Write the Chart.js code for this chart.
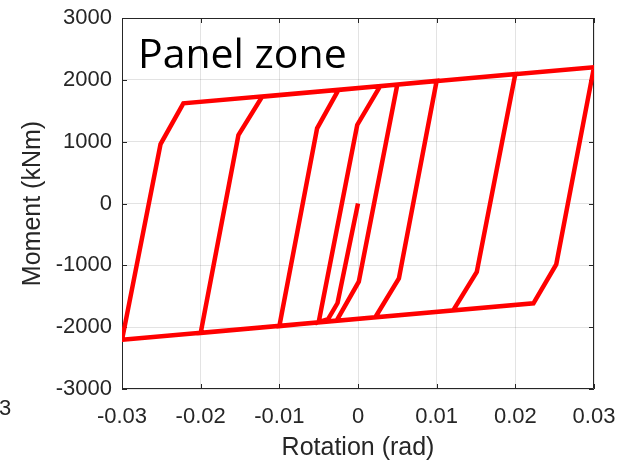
<!DOCTYPE html>
<html>
<head>
<meta charset="utf-8">
<script src="https://cdn.jsdelivr.net/npm/chart.js@4.4.1/dist/chart.umd.min.js"></script>
<style>
  html, body { margin: 0; padding: 0; background: #fff; }
  #wrap { width: 628px; height: 461px; position: relative; }
</style>
</head>
<body>
<div id="wrap"><canvas id="chart" width="628" height="461"></canvas></div>
<script>
'use strict';

// ── Data ──────────────────────────────────────────────────────────────────────
const rotation = [
    0, -0.0026, -0.0038, -0.0050,
    -0.0001, 0.0028, 0.0050,
    0.0001, -0.0027, -0.0100,
    -0.0052, -0.0025, 0.0100,
    0.0052, 0.0022, -0.0200,
    -0.0152, -0.0122, 0.0200,
    0.0151, 0.0121, -0.0300,
    -0.0251, -0.0222, 0.0300,
    0.0252, 0.0223, -0.0300
];
const moment = [
    0, -1610, -1870, -1920,
    1270, 1895, 1925,
    -1265, -1890, -1985,
    1215, 1835, 1985,
    -1210, -1840, -2095,
    1105, 1725, 2095,
    -1105, -1730, -2205,
    960, 1620, 2205,
    -985, -1615, -2205
];
const xTicks = [-0.03, -0.02, -0.01, 0, 0.01, 0.02, 0.03];
const yTicks = [-3000, -2000, -1000, 0, 1000, 2000, 3000];

const AXIS_COLOR = '#262626';
const GRID_COLOR = 'rgba(38,38,38,0.13)';
const TICK_FONT  = { family: '"Liberation Sans", Arial, sans-serif', size: 22 };
const LABEL_FONT = { family: '"Liberation Sans", Arial, sans-serif', size: 25, lineHeight: 1.05 };

// ── Box + inside ticks + annotation text (MATLAB look) ───────────────────────
const matlabBox = {
    id: 'matlabBox',
    beforeDatasetsDraw(chart) {
        const { ctx, chartArea: a, scales } = chart;
        ctx.save();
        ctx.strokeStyle = AXIS_COLOR;
        ctx.lineWidth = 1;
        ctx.beginPath();
        ctx.rect(a.left + 0.5, a.top + 0.5, a.right - a.left - 1, a.bottom - a.top - 1);
        ctx.stroke();
        const len = 5;
        ctx.beginPath();
        xTicks.forEach(v => {
            const px = Math.round(scales.x.getPixelForValue(v)) + 0.5;
            ctx.moveTo(px, a.bottom); ctx.lineTo(px, a.bottom - len);
            ctx.moveTo(px, a.top);    ctx.lineTo(px, a.top + len);
        });
        yTicks.forEach(v => {
            const py = Math.round(scales.y.getPixelForValue(v)) + 0.5;
            ctx.moveTo(a.left, py);  ctx.lineTo(a.left + len, py);
            ctx.moveTo(a.right, py); ctx.lineTo(a.right - len, py);
        });
        ctx.stroke();
        ctx.restore();
    },
    afterDraw(chart) {
        const { ctx } = chart;
        ctx.save();
        ctx.fillStyle = '#000';
        ctx.font = '41px "Open Sans", Lato, sans-serif';
        ctx.textBaseline = 'alphabetic';
        ctx.fillText('Panel zone', 138, 68);
        // cut-off exponent label at the far left
        ctx.fillStyle = AXIS_COLOR;
        ctx.font = '22px "Liberation Sans", Arial, sans-serif';
        ctx.fillText('3', -1, 415);
        ctx.restore();
    }
};

// ── Chart ────────────────────────────────────────────────────────────────────
new Chart(document.getElementById('chart'), {
    type: 'scatter',
    data: {
        datasets: [{
            data: rotation.map((r, i) => ({ x: r, y: moment[i] })),
            showLine: true,
            borderColor: '#ff0000',
            borderWidth: 4.5,
            borderJoinStyle: 'miter',
            pointRadius: 0,
            tension: 0,
            fill: false
        }]
    },
    options: {
        responsive: false,
        animation: false,
        layout: { padding: { left: 0, right: 34, top: 18, bottom: 0 } },
        plugins: { legend: { display: false }, tooltip: { enabled: false } },
        scales: {
            x: {
                type: 'linear',
                min: -0.03, max: 0.03,
                afterFit: s => { s.height = 72; s.paddingLeft = 0; s.paddingRight = 0; },
                afterBuildTicks: s => { s.ticks = xTicks.map(v => ({ value: v })); },
                grid: { color: GRID_COLOR, drawTicks: false },
                border: { display: false },
                ticks: {
                    color: AXIS_COLOR, font: TICK_FONT, padding: 15, maxRotation: 0,
                    callback: v => String(parseFloat(Number(v).toFixed(2)))
                },
                title: {
                    display: true, text: 'Rotation (rad)', color: AXIS_COLOR,
                    font: LABEL_FONT, padding: { top: 0, bottom: 0 }
                }
            },
            y: {
                type: 'linear',
                min: -3000, max: 3000,
                afterFit: s => { s.width = 122; s.paddingTop = 0; s.paddingBottom = 0; },
                afterBuildTicks: s => { s.ticks = yTicks.map(v => ({ value: v })); },
                grid: { color: GRID_COLOR, drawTicks: false },
                border: { display: false },
                ticks: {
                    color: AXIS_COLOR, font: TICK_FONT, padding: 10,
                    callback: v => String(v)
                },
                title: {
                    display: true, text: 'Moment (kNm)', color: AXIS_COLOR,
                    font: LABEL_FONT, padding: { top: 20, bottom: 0 }
                }
            }
        }
    },
    plugins: [matlabBox]
});
</script>
</body>
</html>
